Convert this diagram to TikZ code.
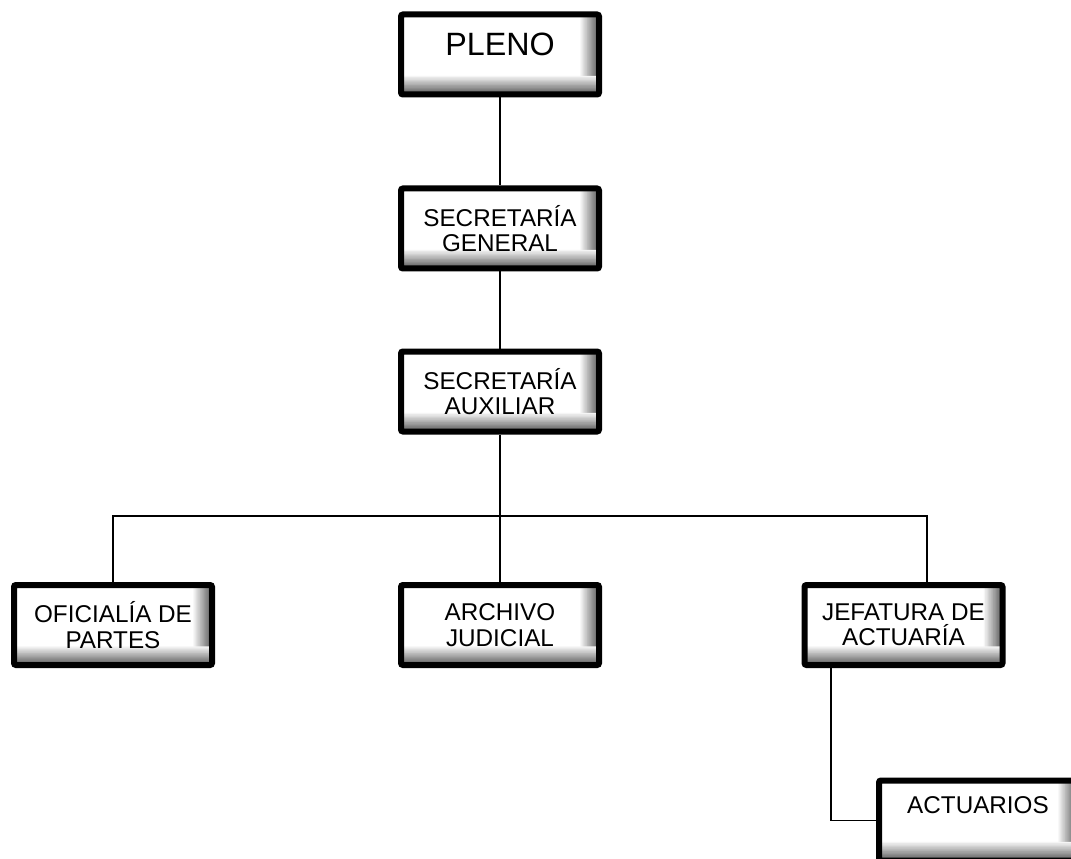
\documentclass[tikz,border=0pt]{standalone}
\usepackage{fontspec}
\setmainfont{Liberation Sans}

\begin{document}
\begin{tikzpicture}[x = 0.75pt, y = -0.75pt,
                    unit/.style = {draw, line width = 4.5pt, rounded corners = 1.5pt, fill = white,
                                   minimum width = 148.5pt, minimum height = 60pt, inner sep = 0pt,
                                   align = center, font = \fontsize{18.2}{19}\selectfont,
                                   path picture = {
                                     \foreach \k [evaluate = \k as \g using int(4.5*\k)] in {1, ..., 14}{
                                       \fill [black!\g] ([xshift = -(15-\k)*1pt]path picture bounding box.north east)
                                         rectangle (path picture bounding box.south east);}
                                     \foreach \k [evaluate = \k as \g using int(4.5*\k)] in {1, ..., 14}{
                                       \fill [black!\g] ([yshift = (15-\k)*1pt]path picture bounding box.south west)
                                         rectangle (path picture bounding box.south east);}}},
                    link/.style = {line width = 1pt}]
      \useasboundingbox (0, 0) rectangle (1071, 859);

      \node [unit, font = \fontsize{24.2}{26}\selectfont] (pleno) at (500, 54.5){\raisebox{7.9pt}[\height][\depth]{PLENO}};
      \node [unit] (sgen) at (500, 228.5){SECRETARÍA\\GENERAL};
      \node [unit] (saux) at (500, 391.5){SECRETARÍA\\AUXILIAR};

      \node [unit] (ofic) at (113, 625){OFICIALÍA DE\\PARTES};
      \node [unit] (arch) at (500, 625){ARCHIVO\\JUDICIAL};
      \node [unit] (jefa) at (903.5, 625){JEFATURA DE\\ACTUARÍA};
      \node [unit] (actu) at (978, 820.5){\raisebox{11.25pt}[\height][\depth]{ACTUARIOS}};

      \coordinate (bus) at (500, 516);

      \draw [link] (pleno) -- (sgen) -- (saux) -- (arch);
      \draw [link] (ofic.north) |- (bus) -| ([xshift = 17.6pt]jefa.north);
      \draw [link] ([xshift = -54.4pt]jefa.south) |- (actu.west);

      \end{tikzpicture}
\end{document}
